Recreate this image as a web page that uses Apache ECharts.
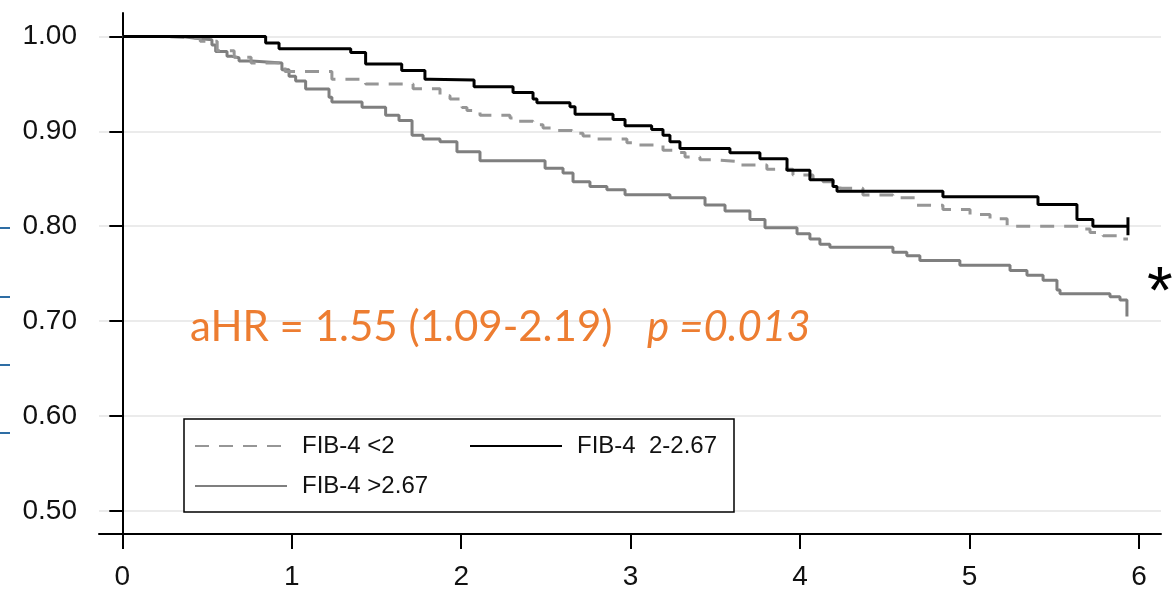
<!DOCTYPE html>
<html>
<head>
<meta charset="utf-8">
<title>FIB-4 survival</title>
<script src="https://cdn.jsdelivr.net/npm/echarts@6.0.0/dist/echarts.min.js"></script>
<style>
  html, body { margin: 0; padding: 0; background: #fff; }
  #chart { width: 1173px; height: 591px; }
</style>
</head>
<body>
<div id="chart"></div>
<script>
// survival steps: [time in years, survival after the step]
var lowTimes  = [0, 0.24, 0.46, 0.56, 0.66, 0.76, 0.96, 1.237, 1.436, 1.716, 1.875, 1.934, 2.005, 2.034, 2.111, 2.288, 2.329, 2.424, 2.483, 2.571, 2.654, 2.719, 2.801, 2.978, 3.037, 3.191, 3.250, 3.321, 3.409, 3.486, 3.645, 3.804, 3.958, 4.076, 4.135, 4.235, 4.371, 4.548, 4.689, 4.843, 5.003, 5.121, 5.222, 5.652, 5.711, 5.788, 5.888, 5.935];
var lowSurv   = [1.0, 0.998, 0.995, 0.985, 0.978, 0.972, 0.963, 0.955, 0.950, 0.945, 0.9375, 0.934, 0.925, 0.922, 0.917, 0.914, 0.9105, 0.907, 0.9035, 0.901, 0.898, 0.895, 0.892, 0.888, 0.8855, 0.880, 0.8778, 0.873, 0.870, 0.868, 0.8646, 0.860, 0.854, 0.851, 0.847, 0.840, 0.833, 0.830, 0.822, 0.8177, 0.8125, 0.808, 0.800, 0.797, 0.7935, 0.790, 0.7865, 0.7865];

var midTimes  = [0, 0.846, 0.925, 1.348, 1.436, 1.649, 1.786, 1.816, 2.076, 2.306, 2.424, 2.447, 2.642, 2.672, 2.896, 2.967, 3.124, 3.191, 3.232, 3.291, 3.586, 3.763, 3.923, 4.058, 4.194, 4.218, 4.843, 5.404, 5.634, 5.728, 5.935];
var midSurv   = [1.0, 0.993, 0.987, 0.983, 0.971, 0.964, 0.955, 0.954, 0.947, 0.941, 0.934, 0.930, 0.926, 0.918, 0.9125, 0.906, 0.902, 0.896, 0.889, 0.882, 0.8775, 0.871, 0.859, 0.849, 0.842, 0.837, 0.831, 0.823, 0.807, 0.800, 0.800];

var highTimes = [0, 0.35, 0.433, 0.529, 0.551, 0.618, 0.647, 0.689, 0.765, 0.942, 0.984, 1.023, 1.082, 1.220, 1.237, 1.415, 1.554, 1.633, 1.710, 1.775, 1.875, 1.975, 2.111, 2.495, 2.601, 2.660, 2.760, 2.860, 2.967, 3.232, 3.439, 3.557, 3.704, 3.793, 3.982, 4.058, 4.117, 4.176, 4.548, 4.630, 4.707, 4.943, 5.239, 5.339, 5.434, 5.516, 5.534, 5.829, 5.888, 5.929];
var highSurv  = [1.0, 0.998, 0.9966, 0.991, 0.984, 0.979, 0.9775, 0.974, 0.972, 0.965, 0.958, 0.953, 0.9445, 0.936, 0.931, 0.9255, 0.917, 0.9115, 0.896, 0.892, 0.889, 0.8785, 0.869, 0.861, 0.856, 0.847, 0.842, 0.8385, 0.8333, 0.830, 0.8225, 0.816, 0.807, 0.7985, 0.792, 0.7865, 0.781, 0.778, 0.7726, 0.769, 0.764, 0.759, 0.7535, 0.7483, 0.743, 0.7327, 0.729, 0.7257, 0.7222, 0.705];

var seriesNames = ['FIB-4 <2', 'FIB-4  2-2.67', 'FIB-4 >2.67'];
var yTicks = [0.5, 0.6, 0.7, 0.8, 0.9, 1.0];
var xTicks = [0, 1, 2, 3, 4, 5, 6];
var annotation = 'aHR = 1.55 (1.09-2.19)';
var pText = 'p =0.013';

function pairs(t, s, censorLast) {
  var out = [];
  for (var k = 0; k < t.length; k++) {
    out.push([t[k], s[k]]);
  }
  if (censorLast) {
    out[out.length - 1] = {
      value: out[out.length - 1],
      symbol: 'rect',
      symbolSize: [3, 18]
    };
  }
  return out;
}

var chart = echarts.init(document.getElementById('chart'));

var option = {
  animation: false,
  backgroundColor: '#fff',
  grid: { left: 99, top: 13, right: 12, bottom: 51, containLabel: false },
  xAxis: {
    type: 'value',
    min: -0.1375,
    max: 6.130,
    axisLine: { show: true, lineStyle: { color: '#000', width: 2 } },
    axisTick: { show: true, customValues: xTicks, length: 15, lineStyle: { color: '#000', width: 2 } },
    axisLabel: {
      customValues: xTicks,
      margin: 29,
      fontSize: 28,
      fontFamily: 'Liberation Sans',
      color: '#111',
      formatter: function (v) { return String(Math.round(v)); }
    },
    splitLine: { show: false }
  },
  yAxis: {
    type: 'value',
    min: 0.47573,
    max: 1.02469,
    axisLine: { show: true, lineStyle: { color: '#000', width: 2 } },
    axisTick: { show: true, customValues: yTicks, length: 13, lineStyle: { color: '#000', width: 2 } },
    axisLabel: {
      customValues: yTicks,
      margin: 22,
      fontSize: 28,
      fontFamily: 'Liberation Sans',
      color: '#111',
      formatter: function (v) { return v.toFixed(2); }
    },
    splitLine: { show: true, lineStyle: { color: '#ebebeb', width: 2 } }
  },
  legend: {
    data: seriesNames,
    left: 184,
    top: 419,
    width: 540,
    orient: 'horizontal',
    padding: [15, 6, 14, 10],
    itemGap: 16,
    itemWidth: 92,
    itemHeight: 19,
    borderColor: '#000',
    borderWidth: 1.5,
    borderRadius: 0,
    backgroundColor: '#fff',
    selectedMode: false,
    itemStyle: { color: 'rgba(0,0,0,0)', borderWidth: 0, opacity: 0 },
    textStyle: {
      fontSize: 24,
      fontFamily: 'Liberation Sans',
      color: '#111',
      lineHeight: 19,
      width: 141,
      padding: [0, 10, 0, 10]
    }
  },
  graphic: [
    { type: 'line', shape: { x1: 0, y1: 228, x2: 10, y2: 228 }, style: { stroke: '#2e6da4', lineWidth: 2 } },
    { type: 'line', shape: { x1: 0, y1: 297, x2: 10, y2: 297 }, style: { stroke: '#2e6da4', lineWidth: 2 } },
    { type: 'line', shape: { x1: 0, y1: 365, x2: 10, y2: 365 }, style: { stroke: '#2e6da4', lineWidth: 2 } },
    { type: 'line', shape: { x1: 0, y1: 433, x2: 10, y2: 433 }, style: { stroke: '#2e6da4', lineWidth: 2 } },
    {
      type: 'text', left: 190, top: 306, z: 10,
      style: { text: annotation, fill: '#ed7d31', font: '42px Lato' }
    },
    {
      type: 'text', left: 647, top: 306, z: 10,
      style: { text: pText, fill: '#ed7d31', font: 'italic 42px Lato' }
    },
    {
      type: 'text', left: 1147, top: 262, z: 10,
      style: { text: '*', fill: '#000', font: '66px Liberation Sans' }
    }
  ],
  series: [
    {
      name: seriesNames[2],
      type: 'line',
      step: 'end',
      symbol: 'none',
      data: pairs(highTimes, highSurv, false),
      lineStyle: { color: '#7f7f7f', width: 3 },
      itemStyle: { color: '#7f7f7f' },
      z: 2
    },
    {
      name: seriesNames[0],
      type: 'line',
      step: 'end',
      symbol: 'none',
      data: pairs(lowTimes, lowSurv, false),
      lineStyle: { color: '#969696', width: 3, type: [14, 10] },
      itemStyle: { color: '#969696' },
      z: 3
    },
    {
      name: seriesNames[1],
      type: 'line',
      step: 'end',
      symbol: 'none',
      data: pairs(midTimes, midSurv, true),
      lineStyle: { color: '#000', width: 3 },
      itemStyle: { color: '#000' },
      z: 4
    }
  ]
};

chart.setOption(option);
</script>
</body>
</html>
